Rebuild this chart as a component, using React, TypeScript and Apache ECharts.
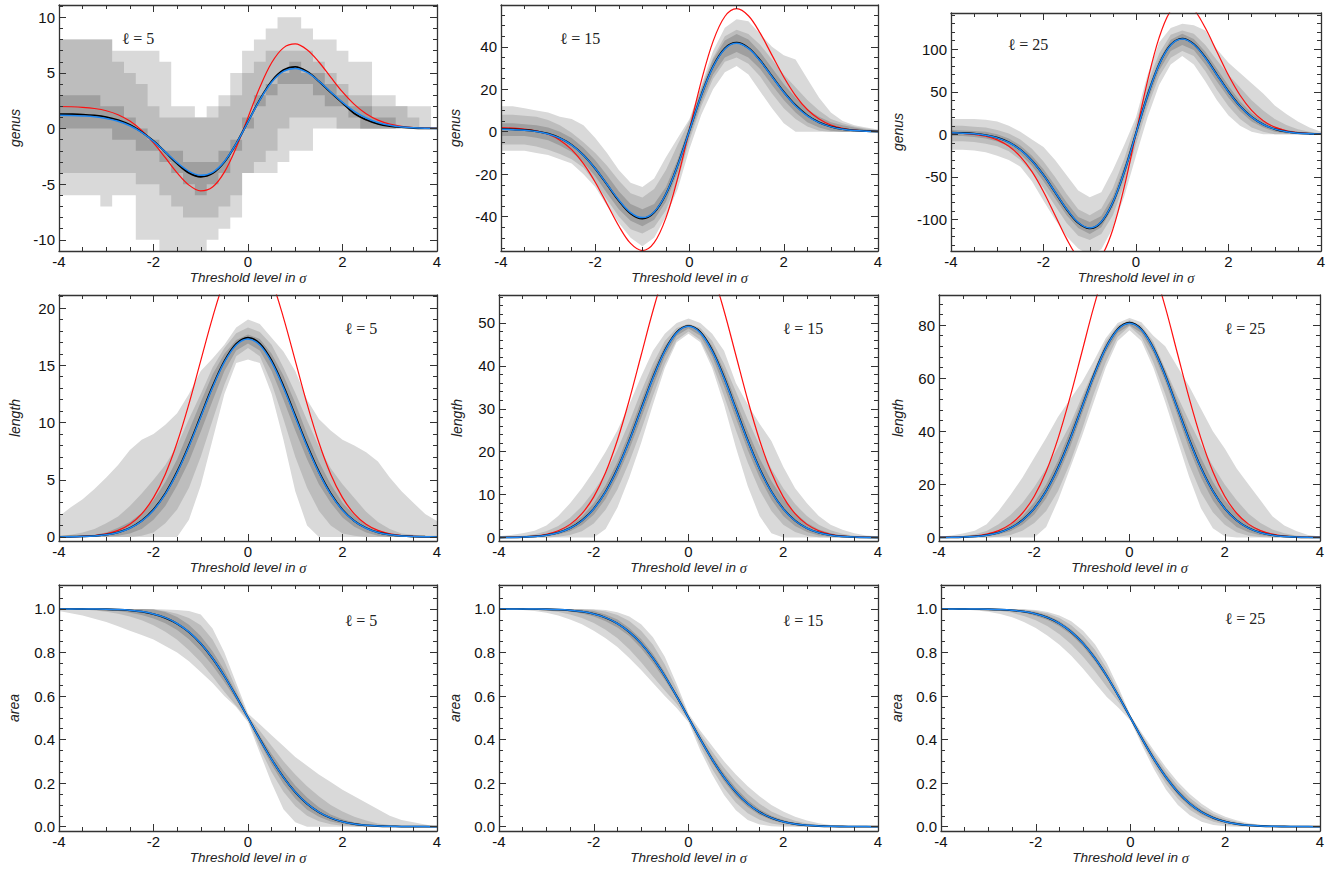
import React, { useEffect, useRef } from "react";
import * as echarts from "echarts";

// Threshold levels (in sigma)
const X = [-4, -3.75, -3.5, -3.25, -3, -2.75, -2.5, -2.25, -2, -1.75, -1.5, -1.25, -1, -0.75, -0.5, -0.25, 0, 0.25, 0.5, 0.75, 1, 1.25, 1.5, 1.75, 2, 2.25, 2.5, 2.75, 3, 3.25, 3.5, 3.75, 4];

// ---------- genus, l = 5 ----------
const genus5Fit = [1.19, 1.17, 1.13, 1.06, 0.91, 0.66, 0.25, -0.35, -1.15, -2.10, -3.06, -3.84, -4.20, -3.93, -2.96, -1.36, 0.60, 2.56, 4.16, 5.13, 5.40, 5.04, 4.26, 3.30, 2.35, 1.55, 0.95, 0.54, 0.29, 0.14, 0.07, 0.03, 0.01];
const genus5Mean = [1.30, 1.29, 1.26, 1.18, 1.03, 0.76, 0.33, -0.30, -1.12, -2.12, -3.15, -3.98, -4.33, -4.02, -3.00, -1.35, 0.62, 2.60, 4.25, 5.25, 5.55, 5.12, 4.25, 3.25, 2.30, 1.35, 0.80, 0.42, 0.22, 0.12, 0.05, 0.02, 0.01];
const genus5Gauss = [1.98, 1.96, 1.91, 1.80, 1.60, 1.24, 0.67, -0.17, -1.29, -2.62, -3.98, -5.08, -5.60, -5.25, -3.91, -1.71, 1.00, 3.71, 5.91, 7.25, 7.60, 7.08, 5.98, 4.62, 3.29, 2.17, 1.33, 0.76, 0.40, 0.20, 0.09, 0.04, 0.02];
const genus5Hi99 = [8, 8, 8, 8, 8, 7, 7, 7, 7, 6, 2, 2, 1, 2, 3, 5, 7, 8, 9, 10, 10, 9, 8, 8, 7, 6, 6, 3, 3, 2, 2, 2, 0];
const genus5Lo99 = [-6, -6, -6, -6, -7, -6, -6, -10, -10, -11, -11, -11, -11, -10, -9, -8, -4, -4, -4, -3, -2, -2, 0, 0, 0, 0, 0, 0, 0, 0, 0, 0, 0];
const genus5Hi95 = [8, 8, 8, 8, 8, 6, 5, 4, 2, 1, 1, 1, 1, 1, 2, 3, 5, 6, 7, 7, 7, 7, 6, 5, 4, 3, 3, 2, 2, 2, 1, 0, 0];
const genus5Lo95 = [-4, -4, -4, -4, -4, -4, -4, -5, -5, -6, -7, -8, -8, -8, -7, -6, -4, -3, -2, 0, 1, 1, 1, 1, 0, 0, 0, 0, 0, 0, 0, 0, 0];
const genus5Hi68 = [3, 3, 3, 3, 2, 2, 1, 0, -1, -2, -2, -3, -3, -3, -2, -1, 1, 3, 4, 5, 6, 5, 5, 4, 3, 2, 2, 1, 1, 0, 0, 0, 0];
const genus5Lo68 = [0, 0, 0, 0, 0, -1, -1, -2, -2, -3, -4, -5, -6, -5, -4, -2, 0, 2, 3, 4, 4, 4, 3, 2, 2, 1, 0, 0, 0, 0, 0, 0, 0];

// ---------- genus, l = 15 ----------
const genus15Fit = [1.11, 0.97, 0.67, 0.07, -1.08, -3.09, -6.32, -11.06, -17.35, -24.74, -32.19, -38.08, -40.47, -37.79, -29.35, -15.85, 0.60, 17.05, 30.55, 38.99, 41.67, 39.28, 33.39, 25.94, 18.55, 12.26, 7.51, 4.29, 2.28, 1.13, 0.53, 0.23, 0.09];
const genus15Mean = [1.3, 1.1, 0.8, 0.2, -0.9, -3.0, -6.2, -11.0, -17.4, -24.9, -32.5, -38.5, -40.9, -38.0, -29.4, -15.7, 0.7, 17.2, 30.8, 39.3, 42.0, 39.5, 33.6, 26.1, 18.8, 12.5, 7.7, 4.4, 2.4, 1.2, 0.6, 0.3, 0.1];
const genus15Gauss = [1.88, 1.69, 1.27, 0.43, -1.17, -3.97, -8.45, -15.05, -23.79, -34.08, -44.44, -52.64, -56.00, -52.29, -40.58, -21.84, 1.00, 23.84, 42.58, 54.29, 58.00, 54.64, 46.44, 36.08, 25.79, 17.05, 10.45, 5.96, 3.17, 1.57, 0.73, 0.31, 0.12];
const genus15Hi99 = [12, 12, 11, 10, 9, 7, 6, 3, -3, -10, -18, -24, -26, -22, -12, -3, 6, 22, 38, 49, 53, 52, 46, 40, 36, 34, 25, 16, 9, 5, 3, 2, 1];
const genus15Lo99 = [-9, -9, -9, -10, -11, -13, -15, -20, -26, -35, -43, -50, -54, -50, -40, -27, -8, 8, 20, 28, 31, 27, 19, 11, 4, 0, 0, 0, 0, 0, 0, 0, 0];
const genus15Hi95 = [8, 8, 7.5, 7, 5.5, 3, -0.5, -5, -10, -16, -23, -29, -31, -27, -18, -6, 5, 21, 35, 45, 48, 46, 41, 34, 27, 21, 15, 10, 6, 4, 2.5, 1.5, 0.8];
const genus15Lo95 = [-6, -6, -6, -7, -8.5, -10.5, -13, -17, -24, -32, -40, -46, -48, -45, -37, -23, -4, 12, 25, 33, 35, 32, 26, 18, 11, 6, 2.5, 0.5, 0, 0, 0, 0, 0];
const genus15Hi68 = [4, 4, 3.5, 3, 2, 0, -3, -7.5, -13.5, -20.5, -28, -34, -36.5, -34, -26, -13, 3, 20, 34, 43, 46, 43.5, 37.5, 30, 22.5, 16, 10.5, 7, 4.5, 3, 2, 1, 0.5];
const genus15Lo68 = [-2, -2, -2, -2.8, -4, -6.5, -9.5, -14.5, -21, -29, -36.5, -42, -44.5, -41.5, -33, -19, -2, 14, 27, 35, 37.5, 35, 29.5, 22, 15, 9, 4.5, 2, 0.5, 0, 0, 0, 0];

// ---------- genus, l = 25 ----------
const genus25Fit = [1.76, 1.39, 0.58, -1.04, -4.13, -9.55, -18.21, -30.97, -47.86, -67.72, -87.74, -103.51, -109.92, -102.61, -79.80, -43.38, 1.00, 45.38, 81.80, 104.61, 111.92, 105.51, 89.74, 69.72, 49.86, 32.97, 20.21, 11.54, 6.13, 3.04, 1.42, 0.61, 0.24];
const genus25Mean = [2.0, 1.6, 0.8, -0.8, -3.9, -9.3, -18.0, -30.8, -47.8, -67.9, -88.1, -104.0, -110.5, -103.0, -80.0, -43.2, 1.3, 45.8, 82.3, 105.2, 112.5, 106.0, 90.2, 70.1, 50.2, 33.2, 20.4, 11.7, 6.2, 3.1, 1.5, 0.7, 0.3];
const genus25Gauss = [1.67, 1.16, 0.03, -2.22, -6.52, -14.06, -26.12, -43.87, -67.35, -94.98, -122.80, -144.72, -153.58, -143.37, -111.57, -60.83, 1.00, 62.83, 113.57, 145.37, 155.58, 146.72, 124.80, 96.98, 69.35, 45.87, 28.12, 16.05, 8.52, 4.22, 1.97, 0.84, 0.33];
const genus25Hi99 = [18, 18, 18, 17, 15, 10, 3, -6, -15, -30, -48, -66, -74, -68, -42, -12, 20, 70, 108, 125, 130, 128, 122, 100, 84, 72, 60, 48, 34, 24, 15, 8, 3];
const genus25Lo99 = [-18, -18, -19, -21, -25, -30, -38, -55, -78, -100, -120, -134, -142, -135, -110, -72, -25, 20, 58, 82, 92, 82, 62, 40, 22, 10, 3, 0, 0, 0, 0, 0, 0];
const genus25Hi95 = [10, 10, 9, 8, 5, 1, -6, -17, -32, -50, -70, -88, -95, -87, -63, -28, 14, 60, 95, 117, 122, 118, 105, 87, 70, 55, 40, 28, 18, 11, 6, 3, 1];
const genus25Lo95 = [-8, -8, -9, -11, -14, -20, -30, -45, -63, -84, -104, -119, -124, -117, -95, -58, -12, 32, 68, 90, 98, 92, 74, 52, 33, 18, 8, 3, 0, 0, 0, 0, 0];
const genus25Hi68 = [5, 4.5, 4, 3, 0, -5, -13, -25, -41, -60, -80, -97, -103, -96, -73, -37, 6, 52, 88, 111, 118, 112, 97, 77, 57, 39, 25, 15, 9, 5, 3, 1.5, 0.5];
const genus25Lo68 = [-2, -2, -3, -5, -8.5, -14, -23.5, -37, -55, -75, -95, -110, -117, -109, -86, -50, -4, 39, 75, 98, 105, 99, 82, 62, 43, 27, 15, 8, 3, 1, 0, 0, 0];

// ---------- length, l = 5 ----------
const length5Fit = [0.01, 0.02, 0.04, 0.09, 0.19, 0.39, 0.76, 1.38, 2.34, 3.74, 5.62, 7.92, 10.49, 13.06, 15.27, 16.77, 17.30, 16.77, 15.27, 13.06, 10.49, 7.92, 5.62, 3.74, 2.34, 1.38, 0.76, 0.39, 0.19, 0.09, 0.04, 0.02, 0.01];
const length5Mean = [0.01, 0.02, 0.05, 0.10, 0.20, 0.41, 0.79, 1.42, 2.39, 3.80, 5.70, 8.01, 10.58, 13.15, 15.36, 16.87, 17.42, 16.90, 15.40, 13.18, 10.60, 8.02, 5.70, 3.80, 2.38, 1.40, 0.78, 0.40, 0.20, 0.09, 0.04, 0.02, 0.01];
const length5Gauss = [0.01, 0.02, 0.06, 0.13, 0.28, 0.58, 1.12, 2.02, 3.44, 5.49, 8.25, 11.63, 15.41, 19.17, 22.42, 24.62, 25.40, 24.62, 22.42, 19.17, 15.41, 11.63, 8.25, 5.49, 3.44, 2.02, 1.12, 0.58, 0.28, 0.13, 0.06, 0.02, 0.01];
const length5Hi99 = [1.8, 2.6, 3.3, 4.2, 5.2, 6.3, 7.6, 8.5, 9.0, 9.8, 10.8, 12.5, 14.5, 15.6, 16.8, 18.3, 19.0, 18.6, 17.4, 16.2, 14.5, 12.0, 10.3, 9.3, 8.5, 8.0, 7.4, 6.6, 5.2, 4.0, 3.0, 2.0, 1.4];
const length5Lo99 = [0, 0, 0, 0, 0, 0, 0, 0, 0, 0, 0, 1.5, 4.5, 8.5, 12.5, 15.2, 15.5, 15.2, 12.5, 8.5, 4.0, 1.0, 0, 0, 0, 0, 0, 0, 0, 0, 0, 0, 0];
const length5Hi95 = [0.1, 0.2, 0.4, 0.7, 1.2, 1.8, 2.7, 3.8, 5.0, 6.3, 8.0, 10.3, 12.5, 14.8, 16.5, 17.8, 18.3, 17.9, 16.8, 14.8, 12.6, 10.2, 7.9, 6.0, 4.6, 3.4, 2.2, 1.3, 0.7, 0.3, 0.2, 0.1, 0.1];
const length5Lo95 = [0, 0, 0, 0, 0, 0, 0, 0.1, 0.4, 1.2, 2.4, 4.3, 7.0, 10.2, 13.3, 15.8, 16.5, 15.8, 13.4, 10.3, 7.0, 4.3, 2.3, 1.0, 0.3, 0.1, 0, 0, 0, 0, 0, 0, 0];
const length5Hi68 = [0, 0, 0.1, 0.2, 0.4, 0.8, 1.3, 2.1, 3.2, 4.8, 6.8, 9.3, 11.8, 14.2, 16.0, 17.2, 17.7, 17.3, 16.0, 14.1, 11.7, 9.0, 6.6, 4.6, 3.0, 1.9, 1.1, 0.6, 0.3, 0.1, 0, 0, 0];
const length5Lo68 = [0, 0, 0, 0, 0.05, 0.1, 0.3, 0.7, 1.5, 2.7, 4.5, 6.6, 9.2, 11.9, 14.5, 16.3, 16.9, 16.3, 14.5, 12.0, 9.3, 6.8, 4.6, 3.0, 1.7, 0.9, 0.4, 0.1, 0, 0, 0, 0, 0];

// ---------- length, l = 15 ----------
const length15Fit = [0.01, 0.04, 0.11, 0.25, 0.55, 1.12, 2.16, 3.92, 6.66, 10.64, 15.98, 22.52, 29.84, 37.14, 43.42, 47.68, 49.20, 47.68, 43.42, 37.14, 29.84, 22.52, 15.98, 10.64, 6.66, 3.92, 2.16, 1.12, 0.55, 0.25, 0.11, 0.04, 0.01];
const length15Mean = [0.02, 0.05, 0.12, 0.27, 0.58, 1.16, 2.21, 3.98, 6.72, 10.70, 16.05, 22.60, 29.95, 37.28, 43.55, 47.80, 49.30, 47.85, 43.60, 37.30, 29.98, 22.62, 16.06, 10.70, 6.70, 3.95, 2.18, 1.13, 0.56, 0.26, 0.11, 0.04, 0.02];
const length15Gauss = [0.02, 0.06, 0.15, 0.36, 0.78, 1.60, 3.07, 5.57, 9.47, 15.14, 22.73, 32.05, 42.46, 52.84, 61.78, 67.84, 70.00, 67.84, 61.78, 52.84, 42.46, 32.05, 22.73, 15.14, 9.47, 5.57, 3.07, 1.60, 0.78, 0.36, 0.15, 0.06, 0.02];
const length15Hi99 = [0.3, 0.6, 1.0, 1.6, 2.8, 5.0, 8.0, 11.5, 15.5, 20.0, 25.0, 31.0, 37.5, 43.5, 47.5, 50.0, 51.0, 50.0, 47.5, 43.5, 36.0, 31.0, 26.5, 22.5, 16.5, 11.5, 8.0, 5.0, 3.0, 1.8, 1.0, 0.5, 0.3];
const length15Lo99 = [0, 0, 0, 0, 0, 0, 0, 0, 0, 2, 7, 14, 22, 31, 39.5, 45.5, 47.5, 45.5, 39.5, 31, 21, 12, 5, 1, 0, 0, 0, 0, 0, 0, 0, 0, 0];
const length15Hi95 = [0.1, 0.2, 0.4, 0.8, 1.5, 2.7, 4.6, 7.3, 10.8, 15.0, 20.5, 27.0, 34.0, 40.5, 45.8, 48.8, 49.8, 48.8, 45.8, 40.5, 34.0, 27.5, 21.5, 16.0, 11.5, 7.8, 5.0, 3.0, 1.7, 0.9, 0.4, 0.2, 0.1];
const length15Lo95 = [0, 0, 0, 0, 0, 0.2, 0.6, 1.5, 3.3, 6.5, 11.2, 17.6, 25.0, 33.0, 40.5, 46.0, 48.0, 46.0, 40.5, 33.0, 25.0, 17.5, 11.0, 6.2, 3.0, 1.3, 0.4, 0.1, 0, 0, 0, 0, 0];
const length15Hi68 = [0, 0.1, 0.2, 0.4, 0.8, 1.6, 2.9, 4.9, 8.0, 12.2, 17.6, 24.4, 31.8, 39.0, 44.6, 48.2, 49.5, 48.2, 44.6, 39.0, 31.8, 24.8, 18.5, 13.2, 9.0, 5.8, 3.4, 1.9, 1.0, 0.4, 0.2, 0.1, 0];
const length15Lo68 = [0, 0, 0, 0.1, 0.3, 0.7, 1.5, 2.9, 5.3, 9.0, 14.3, 20.6, 27.8, 35.2, 42.2, 47.0, 48.7, 47.0, 42.2, 35.2, 27.8, 20.4, 14.0, 8.8, 5.0, 2.7, 1.3, 0.5, 0.2, 0, 0, 0, 0];

// ---------- length, l = 25 ----------
const length25Fit = [0.02, 0.07, 0.18, 0.41, 0.90, 1.84, 3.54, 6.42, 10.92, 17.46, 26.20, 36.94, 48.94, 60.91, 71.22, 78.21, 80.70, 78.21, 71.22, 60.91, 48.94, 36.94, 26.20, 17.46, 10.92, 6.42, 3.54, 1.84, 0.90, 0.41, 0.18, 0.07, 0.02];
const length25Mean = [0.03, 0.08, 0.19, 0.43, 0.93, 1.88, 3.60, 6.50, 11.00, 17.55, 26.30, 37.05, 49.05, 61.05, 71.35, 78.35, 80.85, 78.35, 71.35, 61.05, 49.05, 37.05, 26.30, 17.55, 11.00, 6.48, 3.58, 1.86, 0.92, 0.42, 0.19, 0.08, 0.03];
const length25Gauss = [0.03, 0.10, 0.25, 0.59, 1.28, 2.62, 5.05, 9.15, 15.56, 24.87, 37.34, 52.65, 69.75, 86.80, 101.49, 111.46, 115.0, 111.46, 101.49, 86.80, 69.75, 52.65, 37.34, 24.87, 15.56, 9.15, 5.05, 2.62, 1.28, 0.59, 0.25, 0.10, 0.03];
const length25Hi99 = [0.3, 0.8, 1.5, 2.6, 5.0, 10.0, 16.0, 22.5, 30.0, 37.5, 45.5, 52.0, 58.5, 66.5, 75.0, 80.8, 82.6, 81.0, 76.0, 72.0, 64.5, 57.0, 48.5, 40.0, 33.5, 26.0, 20.0, 14.0, 8.0, 4.5, 2.5, 1.0, 0.4];
const length25Lo99 = [0, 0, 0, 0, 0, 0, 0, 0, 0, 4, 14, 26, 38, 51, 64, 74, 78, 74, 64, 51, 37, 23, 11, 3.5, 0.5, 0, 0, 0, 0, 0, 0, 0, 0];
const length25Hi95 = [0.1, 0.3, 0.6, 1.2, 2.5, 5.0, 8.5, 13.0, 19.0, 26.0, 34.0, 42.5, 53.0, 63.0, 73.8, 79.8, 81.8, 79.8, 73.8, 63.5, 53.5, 44.0, 35.0, 27.0, 20.0, 14.0, 9.0, 5.5, 3.0, 1.6, 0.8, 0.3, 0.1];
const length25Lo95 = [0, 0, 0, 0, 0, 0.3, 1.0, 2.6, 5.5, 10.0, 17.5, 28.0, 40.5, 54.0, 66.0, 75.5, 79.5, 75.5, 66.0, 54.0, 40.5, 27.5, 17.0, 9.5, 4.8, 2.0, 0.7, 0.2, 0, 0, 0, 0, 0];
const length25Hi68 = [0, 0.1, 0.3, 0.6, 1.3, 2.6, 4.8, 8.0, 13.2, 20.0, 29.0, 40.0, 51.5, 62.5, 72.8, 79.0, 81.3, 79.0, 72.8, 63.0, 51.5, 40.3, 30.0, 21.0, 14.0, 8.8, 5.0, 2.8, 1.4, 0.6, 0.3, 0.1, 0];
const length25Lo68 = [0, 0, 0, 0.2, 0.5, 1.1, 2.4, 4.8, 8.7, 14.8, 23.4, 34.0, 46.4, 58.8, 69.5, 77.0, 79.9, 77.0, 69.5, 58.8, 46.4, 33.6, 22.6, 13.9, 7.8, 4.0, 2.0, 0.9, 0.4, 0.1, 0, 0, 0];

// ---------- area (fraction above threshold) ----------
const areaFit = [1.0, 0.9999, 0.9998, 0.9994, 0.9987, 0.9970, 0.9938, 0.9878, 0.9772, 0.9599, 0.9332, 0.8944, 0.8413, 0.7734, 0.6915, 0.5987, 0.5, 0.4013, 0.3085, 0.2266, 0.1587, 0.1056, 0.0668, 0.0401, 0.0228, 0.0122, 0.0062, 0.0030, 0.0013, 0.0006, 0.0002, 0.0001, 0.0];
const area5Mean = [1.0, 0.9999, 0.9997, 0.9993, 0.9985, 0.9967, 0.9934, 0.9872, 0.9765, 0.9590, 0.9322, 0.8935, 0.8405, 0.7730, 0.6915, 0.5990, 0.5005, 0.4020, 0.3090, 0.2268, 0.1586, 0.1053, 0.0665, 0.0398, 0.0226, 0.0121, 0.0061, 0.0029, 0.0013, 0.0005, 0.0002, 0.0001, 0.0];
const area5Hi99 = [1, 1, 1, 1, 1, 1, 1, 1, 1, 0.998, 0.995, 0.99, 0.975, 0.91, 0.80, 0.66, 0.52, 0.47, 0.42, 0.37, 0.32, 0.28, 0.24, 0.205, 0.17, 0.14, 0.11, 0.08, 0.05, 0.03, 0.02, 0.01, 0];
const area5Lo99 = [0.99, 0.98, 0.97, 0.955, 0.94, 0.92, 0.90, 0.88, 0.86, 0.83, 0.80, 0.76, 0.71, 0.66, 0.60, 0.55, 0.48, 0.34, 0.20, 0.08, 0.02, 0, 0, 0, 0, 0, 0, 0, 0, 0, 0, 0, 0];
const area5Hi95 = [1, 1, 1, 1, 1, 1, 1, 0.999, 0.997, 0.99, 0.978, 0.958, 0.925, 0.86, 0.76, 0.635, 0.51, 0.44, 0.37, 0.30, 0.24, 0.185, 0.14, 0.10, 0.07, 0.045, 0.028, 0.015, 0.007, 0.003, 0.001, 0, 0];
const area5Lo95 = [1, 0.999, 0.997, 0.993, 0.987, 0.978, 0.965, 0.948, 0.925, 0.895, 0.858, 0.81, 0.755, 0.69, 0.62, 0.555, 0.49, 0.36, 0.25, 0.16, 0.095, 0.05, 0.025, 0.011, 0.004, 0.001, 0, 0, 0, 0, 0, 0, 0];
const area5Hi68 = [1, 1, 1, 1, 1, 1, 1, 1, 0.998, 0.986, 0.963, 0.927, 0.876, 0.806, 0.718, 0.615, 0.504, 0.417, 0.334, 0.257, 0.189, 0.134, 0.089, 0.056, 0.034, 0.019, 0.010, 0.005, 0.002, 0.001, 0, 0, 0];
const area5Lo68 = [1, 1, 0.999, 0.997, 0.995, 0.99, 0.983, 0.972, 0.956, 0.934, 0.903, 0.861, 0.806, 0.74, 0.665, 0.583, 0.496, 0.385, 0.284, 0.197, 0.129, 0.078, 0.045, 0.024, 0.012, 0.005, 0.002, 0.001, 0, 0, 0, 0, 0];

const area15Mean = [1.0, 0.9999, 0.9998, 0.9993, 0.9986, 0.9969, 0.9936, 0.9876, 0.9770, 0.9597, 0.9330, 0.8942, 0.8412, 0.7733, 0.6915, 0.5988, 0.5002, 0.4015, 0.3087, 0.2267, 0.1587, 0.1055, 0.0667, 0.0400, 0.0227, 0.0122, 0.0062, 0.0030, 0.0013, 0.0006, 0.0002, 0.0001, 0.0];
const area15Hi99 = [1, 1, 1, 1, 1, 1, 1, 1, 0.999, 0.995, 0.985, 0.965, 0.93, 0.87, 0.78, 0.655, 0.52, 0.44, 0.37, 0.30, 0.24, 0.185, 0.14, 0.10, 0.07, 0.045, 0.028, 0.016, 0.008, 0.003, 0.001, 0, 0];
const area15Lo99 = [1, 0.998, 0.995, 0.99, 0.982, 0.97, 0.952, 0.93, 0.90, 0.865, 0.825, 0.775, 0.72, 0.66, 0.60, 0.545, 0.48, 0.35, 0.24, 0.145, 0.075, 0.03, 0.01, 0.002, 0, 0, 0, 0, 0, 0, 0, 0, 0];
const area15Hi95 = [1, 1, 1, 1, 1, 1, 1, 0.999, 0.996, 0.988, 0.972, 0.945, 0.90, 0.835, 0.745, 0.632, 0.51, 0.425, 0.345, 0.27, 0.205, 0.15, 0.105, 0.07, 0.045, 0.027, 0.015, 0.008, 0.004, 0.002, 0.001, 0, 0];
const area15Lo95 = [1, 0.9995, 0.999, 0.997, 0.993, 0.986, 0.975, 0.958, 0.935, 0.905, 0.865, 0.815, 0.755, 0.69, 0.625, 0.565, 0.49, 0.37, 0.265, 0.178, 0.11, 0.062, 0.032, 0.015, 0.006, 0.002, 0.001, 0, 0, 0, 0, 0, 0];
const area15Hi68 = [1, 1, 1, 1, 1, 1, 0.999, 0.996, 0.99, 0.975, 0.951, 0.913, 0.862, 0.794, 0.709, 0.608, 0.502, 0.412, 0.324, 0.245, 0.177, 0.122, 0.08, 0.05, 0.03, 0.016, 0.008, 0.004, 0.002, 0.001, 0, 0, 0];
const area15Lo68 = [1, 1, 0.9995, 0.999, 0.997, 0.994, 0.988, 0.979, 0.965, 0.944, 0.915, 0.876, 0.82, 0.752, 0.674, 0.589, 0.498, 0.39, 0.292, 0.208, 0.14, 0.09, 0.054, 0.03, 0.016, 0.008, 0.004, 0.002, 0, 0, 0, 0, 0];

const area25Mean = [1.0, 0.9999, 0.9998, 0.9994, 0.9987, 0.9970, 0.9937, 0.9877, 0.9771, 0.9598, 0.9331, 0.8943, 0.8413, 0.7734, 0.6915, 0.5987, 0.5001, 0.4014, 0.3086, 0.2266, 0.1587, 0.1056, 0.0668, 0.0401, 0.0228, 0.0122, 0.0062, 0.0030, 0.0013, 0.0006, 0.0002, 0.0001, 0.0];
const area25Hi99 = [1, 1, 1, 1, 1, 1, 1, 0.999, 0.995, 0.986, 0.97, 0.943, 0.90, 0.838, 0.75, 0.637, 0.512, 0.427, 0.347, 0.272, 0.205, 0.15, 0.105, 0.07, 0.045, 0.028, 0.016, 0.009, 0.004, 0.002, 0.001, 0, 0];
const area25Lo99 = [1, 0.999, 0.997, 0.993, 0.987, 0.977, 0.962, 0.94, 0.912, 0.877, 0.835, 0.785, 0.725, 0.66, 0.595, 0.545, 0.487, 0.37, 0.262, 0.17, 0.1, 0.052, 0.022, 0.008, 0.002, 0, 0, 0, 0, 0, 0, 0, 0];
const area25Hi95 = [1, 1, 1, 1, 1, 1, 0.999, 0.997, 0.991, 0.979, 0.958, 0.925, 0.877, 0.812, 0.725, 0.62, 0.507, 0.418, 0.333, 0.255, 0.188, 0.133, 0.09, 0.058, 0.036, 0.021, 0.011, 0.006, 0.003, 0.001, 0, 0, 0];
const area25Lo95 = [1, 0.9998, 0.999, 0.998, 0.995, 0.99, 0.982, 0.968, 0.948, 0.92, 0.884, 0.838, 0.78, 0.715, 0.642, 0.572, 0.493, 0.383, 0.282, 0.196, 0.128, 0.078, 0.044, 0.022, 0.01, 0.004, 0.001, 0, 0, 0, 0, 0, 0];
const area25Hi68 = [1, 1, 1, 1, 1, 1, 0.998, 0.994, 0.986, 0.97, 0.945, 0.906, 0.855, 0.787, 0.703, 0.605, 0.502, 0.41, 0.32, 0.24, 0.172, 0.118, 0.077, 0.048, 0.028, 0.015, 0.008, 0.004, 0.002, 0.001, 0, 0, 0];
const area25Lo68 = [1, 1, 0.9997, 0.999, 0.998, 0.995, 0.99, 0.982, 0.968, 0.949, 0.921, 0.882, 0.827, 0.759, 0.68, 0.592, 0.498, 0.393, 0.297, 0.213, 0.145, 0.093, 0.056, 0.032, 0.017, 0.009, 0.004, 0.002, 0, 0, 0, 0, 0];

const X_TITLE = "{a|Threshold level in }{b|σ}";

const SANS = "'Liberation Sans', Arial, Helvetica, sans-serif";
const SERIF = "'Liberation Serif', 'DejaVu Serif', serif";
const BAND_COLORS = ["#d9d9d9", "#bdbdbd", "#9f9f9f"];
const FRAME = "#333333";

type PanelData = {
  quantity: string;
  tag: string;
  fit: number[];
  mean: number[];
  gauss: number[] | null;
  bands: [number[], number[]][];
  stepped: boolean;
};

const PANEL_DATA: PanelData[] = [
  { quantity: "genus", tag: "ℓ = 5", fit: genus5Fit, mean: genus5Mean, gauss: genus5Gauss, stepped: true,
    bands: [[genus5Lo99, genus5Hi99], [genus5Lo95, genus5Hi95], [genus5Lo68, genus5Hi68]] },
  { quantity: "genus", tag: "ℓ = 15", fit: genus15Fit, mean: genus15Mean, gauss: genus15Gauss, stepped: false,
    bands: [[genus15Lo99, genus15Hi99], [genus15Lo95, genus15Hi95], [genus15Lo68, genus15Hi68]] },
  { quantity: "genus", tag: "ℓ = 25", fit: genus25Fit, mean: genus25Mean, gauss: genus25Gauss, stepped: false,
    bands: [[genus25Lo99, genus25Hi99], [genus25Lo95, genus25Hi95], [genus25Lo68, genus25Hi68]] },
  { quantity: "length", tag: "ℓ = 5", fit: length5Fit, mean: length5Mean, gauss: length5Gauss, stepped: false,
    bands: [[length5Lo99, length5Hi99], [length5Lo95, length5Hi95], [length5Lo68, length5Hi68]] },
  { quantity: "length", tag: "ℓ = 15", fit: length15Fit, mean: length15Mean, gauss: length15Gauss, stepped: false,
    bands: [[length15Lo99, length15Hi99], [length15Lo95, length15Hi95], [length15Lo68, length15Hi68]] },
  { quantity: "length", tag: "ℓ = 25", fit: length25Fit, mean: length25Mean, gauss: length25Gauss, stepped: false,
    bands: [[length25Lo99, length25Hi99], [length25Lo95, length25Hi95], [length25Lo68, length25Hi68]] },
  { quantity: "area", tag: "ℓ = 5", fit: areaFit, mean: area5Mean, gauss: null, stepped: false,
    bands: [[area5Lo99, area5Hi99], [area5Lo95, area5Hi95], [area5Lo68, area5Hi68]] },
  { quantity: "area", tag: "ℓ = 15", fit: areaFit, mean: area15Mean, gauss: null, stepped: false,
    bands: [[area15Lo99, area15Hi99], [area15Lo95, area15Hi95], [area15Lo68, area15Hi68]] },
  { quantity: "area", tag: "ℓ = 25", fit: areaFit, mean: area25Mean, gauss: null, stepped: false,
    bands: [[area25Lo99, area25Hi99], [area25Lo95, area25Hi95], [area25Lo68, area25Hi68]] },
];

// layout: plot rectangles, y ranges, tick settings, label positions
const LAYOUT = [
  { l: 59, t: 5, w: 378, h: 246, ymin: -11, ymax: 11.1, minor: 5, step: 5, dec: 0, gap: 37, tx: 138, ty: 38 },
  { l: 501, t: 5, w: 377, h: 246, ymin: -56.2, ymax: 59.7, minor: 4, step: 20, dec: 0, gap: 39, tx: 580, ty: 38 },
  { l: 951, t: 13, w: 370, h: 238, ymin: -137, ymax: 142.5, minor: 5, step: 50, dec: 0, gap: 46, tx: 1028, ty: 44 },
  { l: 59, t: 295, w: 378, h: 246, ymin: -0.35, ymax: 21.14, minor: 5, step: 5, dec: 0, gap: 37, tx: 361, ty: 328 },
  { l: 499, t: 295, w: 379, h: 246, ymin: -0.8, ymax: 56.5, minor: 5, step: 10, dec: 0, gap: 35, tx: 803, ty: 328 },
  { l: 939, t: 295, w: 381, h: 246, ymin: -1.3, ymax: 91.3, minor: 5, step: 20, dec: 0, gap: 34, tx: 1245, ty: 328 },
  { l: 59, t: 585, w: 378, h: 246, ymin: -0.02, ymax: 1.11, minor: 4, step: 0.2, dec: 1, gap: 38, tx: 361, ty: 620 },
  { l: 499, t: 585, w: 379, h: 246, ymin: -0.02, ymax: 1.11, minor: 4, step: 0.2, dec: 1, gap: 37, tx: 803, ty: 620 },
  { l: 941, t: 585, w: 379, h: 246, ymin: -0.02, ymax: 1.11, minor: 4, step: 0.2, dec: 1, gap: 37, tx: 1245, ty: 618 },
];

function pts(ys: number[]) {
  return X.map((x, k) => [x, ys[k]]);
}

// outline of one edge in data space (optionally as a staircase with steps at mid-points)
function edge(ys: number[], stepped: boolean): number[][] {
  if (!stepped) return pts(ys);
  const out: number[][] = [];
  for (let k = 0; k < X.length; k++) {
    const left = k === 0 ? X[0] : (X[k - 1] + X[k]) / 2;
    const right = k === X.length - 1 ? X[k] : (X[k] + X[k + 1]) / 2;
    out.push([left, ys[k]], [right, ys[k]]);
  }
  return out;
}

function buildOption() {
  const grid: any[] = [];
  const xAxis: any[] = [];
  const yAxis: any[] = [];
  const series: any[] = [];
  const graphic: any[] = [];

  const tick = { show: true, inside: true, length: 7, lineStyle: { color: FRAME, width: 1 } };
  const axisLine = { show: true, onZero: false, lineStyle: { color: FRAME, width: 1.3 } };

  PANEL_DATA.forEach((p, i) => {
    const L = LAYOUT[i];
    grid.push({ left: L.l, top: L.t, width: L.w, height: L.h, containLabel: false });

    const xCommon = {
      type: "value", gridIndex: i, min: -4, max: 4, interval: 2, z: 10,
      axisLine, axisTick: tick,
      minorTick: { show: true, splitNumber: 4, length: 4, lineStyle: { color: FRAME, width: 1 } },
      splitLine: { show: false }, minorSplitLine: { show: false },
    };
    xAxis.push({
      ...xCommon, position: "bottom",
      axisLabel: { show: true, margin: 3, fontSize: 15, color: "#111", fontFamily: SANS },
      name: X_TITLE, nameLocation: "middle", nameGap: 19,
      nameTextStyle: {
        color: "#222",
        rich: {
          a: { fontSize: 13.5, fontStyle: "italic", fontFamily: SANS, color: "#222" },
          b: { fontSize: 14.5, fontStyle: "italic", fontFamily: SERIF, color: "#222" },
        },
      },
    });
    xAxis.push({ ...xCommon, position: "top", axisLabel: { show: false } });

    const step = L.step;
    const dec = L.dec;
    const yCommon = {
      type: "value", gridIndex: i, min: L.ymin, max: L.ymax, splitNumber: 5, z: 10,
      axisLine, axisTick: tick,
      minorTick: { show: true, splitNumber: L.minor, length: 4, lineStyle: { color: FRAME, width: 1 } },
      splitLine: { show: false }, minorSplitLine: { show: false },
    };
    yAxis.push({
      ...yCommon, position: "left",
      axisLabel: {
        show: true, margin: 4, fontSize: 15, color: "#111", fontFamily: SANS,
        formatter: (v: number) => {
          const r = v / step;
          if (Math.abs(r - Math.round(r)) > 1e-6) return "";
          return (Math.round(r) * step).toFixed(dec);
        },
      },
      name: p.quantity, nameLocation: "middle", nameGap: L.gap,
      nameTextStyle: { fontSize: 14, fontStyle: "italic", fontFamily: SANS, color: "#222" },
    });
    yAxis.push({ ...yCommon, position: "right", axisLabel: { show: false } });

    const xi = 2 * i;
    const yi = 2 * i;
    // bands: outer (light) first, inner (dark) last; each one polygon through the axes' scales
    p.bands.forEach(([lo, hi], b) => {
      const color = BAND_COLORS[b];
      const upper = edge(hi, p.stepped);
      const lower = edge(lo, p.stepped).reverse();
      series.push({
        type: "custom", xAxisIndex: xi, yAxisIndex: yi, silent: true, clip: true, z: 2,
        data: X.map((x, k) => [x, lo[k], hi[k]]),
        encode: { x: 0, y: [1, 2] },
        renderItem: (params: any, api: any) => {
          if (params.dataIndex !== 0) return null;
          const points = upper.concat(lower).map((q) => api.coord(q));
          return { type: "polygon", shape: { points }, style: { fill: color, stroke: null } };
        },
      });
    });
    if (p.gauss) {
      series.push({
        type: "line", xAxisIndex: xi, yAxisIndex: yi, data: pts(p.gauss), symbol: "none",
        smooth: 0.35, silent: true, z: 3, lineStyle: { color: "#ff1010", width: 1.2 },
      });
    }
    series.push({
      type: "line", xAxisIndex: xi, yAxisIndex: yi, data: pts(p.mean), symbol: "none",
      smooth: 0.35, silent: true, z: 4, lineStyle: { color: "#000000", width: 1.8 },
    });
    series.push({
      type: "line", xAxisIndex: xi, yAxisIndex: yi, data: pts(p.fit), symbol: "none",
      smooth: 0.35, silent: true, z: 5, lineStyle: { color: "#1c86f2", width: 1.5 },
    });

    graphic.push({
      type: "text", x: L.tx, y: L.ty, z: 20, silent: true,
      style: {
        text: p.tag, font: `16px ${SERIF}`, fill: "#222",
        align: "center", verticalAlign: "middle", textAlign: "center", textVerticalAlign: "middle",
      },
    });
  });

  return { animation: false, backgroundColor: "#ffffff", grid, xAxis, yAxis, series, graphic };
}

export default function App() {
  const ref = useRef<HTMLDivElement>(null);
  useEffect(() => {
    if (!ref.current) return;
    const chart = echarts.init(ref.current, null, { renderer: "svg" });
    chart.setOption(buildOption() as any);
    return () => chart.dispose();
  }, []);
  return (
    <div
      ref={ref}
      style={{ position: "absolute", left: 0, top: 0, width: 1340, height: 871, background: "#fff" }}
    />
  );
}
